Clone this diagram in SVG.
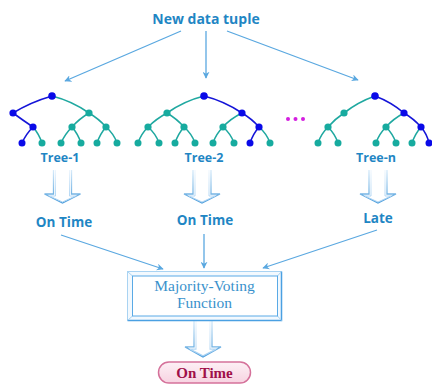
<svg xmlns="http://www.w3.org/2000/svg" xmlns:xlink="http://www.w3.org/1999/xlink" width="432" height="384" viewBox="0 0 432 384">
<style>
.lbl{font-family:"Open Sans","Liberation Sans",sans-serif;font-weight:bold;fill:#1f86c4;text-anchor:middle}
.conn{stroke:#5aa8e0;stroke-width:1.3;fill:none}
.eb{stroke:#1515d8;stroke-width:1.6;fill:none}
.et{stroke:#1fa8a0;stroke-width:1.6;fill:none}
.nb{fill:#0a0ae8}
.nt{fill:#17ab9f}
.ho{fill:#fff;stroke:url(#hg);stroke-width:1.3}
.hi{fill:none;stroke:url(#hg2);stroke-width:1}
.vt{font-family:"Liberation Serif",serif;font-size:15.5px;fill:#3a92cc;text-anchor:middle}
</style>
<defs>
<marker id="ah" viewBox="0 0 10 10" refX="9" refY="5" markerWidth="7" markerHeight="7" markerUnits="userSpaceOnUse" orient="auto">
<path d="M0 0 L10 5 L0 10 L3 5 Z" fill="#5aa8e0"/>
</marker>
<linearGradient id="hg" x1="0" y1="0" x2="0" y2="1">
<stop offset="0" stop-color="#d8ebfa"/>
<stop offset="1" stop-color="#4f9fdc"/>
</linearGradient>
<linearGradient id="hg2" x1="0" y1="0" x2="0" y2="1">
<stop offset="0" stop-color="#eef6fd"/>
<stop offset="1" stop-color="#a6d0f2"/>
</linearGradient>
<linearGradient id="pg" x1="0" y1="0" x2="0" y2="1">
<stop offset="0" stop-color="#fdf0f5"/>
<stop offset="1" stop-color="#f7d3e1"/>
</linearGradient>
<path id="ha" d="M-9 0 V24 H-18 L0 33 L18 24 H9 V0"/>
<path id="hb" d="M-7 0 V26 H-13 L0 32 L13 26 H7 V0"/>
</defs>

<g id="title"><text class="lbl" x="206" y="24" font-size="14">New data tuple</text></g>

<g id="connectors">
<line class="conn" x1="181" y1="31" x2="65" y2="81" marker-end="url(#ah)"/>
<line class="conn" x1="206" y1="31" x2="206" y2="78" marker-end="url(#ah)"/>
<line class="conn" x1="227" y1="31" x2="358" y2="80" marker-end="url(#ah)"/>
<line class="conn" x1="61" y1="235" x2="163" y2="269" marker-end="url(#ah)"/>
<line class="conn" x1="204" y1="234" x2="204" y2="268" marker-end="url(#ah)"/>
<line class="conn" x1="377" y1="230" x2="263" y2="268" marker-end="url(#ah)"/>
</g>

<g id="tree1">
<path class="eb" d="M52 96 Q31 102 13 113 M13 113 Q24 121 33 127 M33 127 Q26 134 22 143"/>
<path class="et" d="M52 96 Q72 101 89 113 M33 127 Q39 134 42 143 M89 113 Q79 119 72 127 M89 113 Q99 119 106 127 M72 127 Q65 134 61 143 M72 127 Q78 134 81 143 M106 127 Q100 134 97 143 M106 127 Q114 134 117 143"/>
<circle class="nb" cx="52" cy="96" r="3.8"/>
<circle class="nb" cx="13" cy="113" r="3.6"/>
<circle class="nt" cx="89" cy="113" r="3.6"/>
<circle class="nb" cx="33" cy="127" r="3.6"/>
<circle class="nt" cx="72" cy="127" r="3.6"/>
<circle class="nt" cx="106" cy="127" r="3.6"/>
<circle class="nb" cx="22" cy="143" r="3.5"/>
<circle class="nt" cx="42" cy="143" r="3.5"/>
<circle class="nt" cx="61" cy="143" r="3.5"/>
<circle class="nt" cx="81" cy="143" r="3.5"/>
<circle class="nt" cx="97" cy="143" r="3.5"/>
<circle class="nt" cx="117" cy="143" r="3.5"/>
<text class="lbl" x="60" y="162" font-size="12.5">Tree-1</text>
</g>

<g id="tree2">
<path class="eb" d="M204 96 Q224 101 242 113 M242 113 Q252 119 259 127 M259 127 Q253 134 250 143"/>
<path class="et" d="M204 96 Q184 101 167 113 M167 113 Q156 119 148 127 M167 113 Q177 119 184 127 M148 127 Q141 134 138 143 M148 127 Q156 134 159 143 M184 127 Q178 134 175 143 M184 127 Q192 134 195 143 M242 113 Q230 119 223 127 M223 127 Q216 134 213 143 M223 127 Q231 134 234 143 M259 127 Q267 134 270 143"/>
<circle class="nb" cx="204" cy="96" r="3.8"/>
<circle class="nt" cx="167" cy="113" r="3.6"/>
<circle class="nb" cx="242" cy="113" r="3.6"/>
<circle class="nt" cx="148" cy="127" r="3.6"/>
<circle class="nt" cx="184" cy="127" r="3.6"/>
<circle class="nt" cx="223" cy="127" r="3.6"/>
<circle class="nb" cx="259" cy="127" r="3.6"/>
<circle class="nt" cx="138" cy="143" r="3.5"/>
<circle class="nt" cx="159" cy="143" r="3.5"/>
<circle class="nt" cx="175" cy="143" r="3.5"/>
<circle class="nt" cx="195" cy="143" r="3.5"/>
<circle class="nt" cx="213" cy="143" r="3.5"/>
<circle class="nt" cx="234" cy="143" r="3.5"/>
<circle class="nb" cx="250" cy="143" r="3.5"/>
<circle class="nt" cx="270" cy="143" r="3.5"/>
<text class="lbl" x="204" y="162" font-size="12.5">Tree-2</text>
</g>

<g id="dots">
<circle cx="288" cy="119" r="2" fill="#d41ee0"/>
<circle cx="295.5" cy="119" r="2" fill="#d41ee0"/>
<circle cx="303" cy="119" r="2" fill="#d41ee0"/>
</g>

<g id="treen">
<path class="eb" d="M375 96 Q391 102 404 113 M404 113 Q414 119 421 127 M421 127 Q427 134 429 143"/>
<path class="et" d="M375 96 Q358 102 344 113 M344 113 Q335 119 328 127 M328 127 Q321 134 318 143 M328 127 Q335 134 338 143 M404 113 Q393 119 386 127 M386 127 Q379 134 376 143 M386 127 Q393 134 396 143 M421 127 Q415 134 412 143"/>
<circle class="nb" cx="375" cy="96" r="3.8"/>
<circle class="nt" cx="344" cy="113" r="3.6"/>
<circle class="nb" cx="404" cy="113" r="3.6"/>
<circle class="nt" cx="328" cy="127" r="3.6"/>
<circle class="nt" cx="386" cy="127" r="3.6"/>
<circle class="nb" cx="421" cy="127" r="3.6"/>
<circle class="nt" cx="318" cy="143" r="3.5"/>
<circle class="nt" cx="338" cy="143" r="3.5"/>
<circle class="nt" cx="376" cy="143" r="3.5"/>
<circle class="nt" cx="396" cy="143" r="3.5"/>
<circle class="nt" cx="412" cy="143" r="3.5"/>
<circle class="nb" cx="429" cy="143" r="3.5"/>
<text class="lbl" x="376" y="162" font-size="12.5">Tree-n</text>
</g>

<g id="harrows">
<g transform="translate(62.5,170)"><use href="#ha" class="ho"/><use href="#hb" class="hi"/></g>
<g transform="translate(202,170)"><use href="#ha" class="ho"/><use href="#hb" class="hi"/></g>
<g transform="translate(378,170)"><use href="#ha" class="ho"/><use href="#hb" class="hi"/></g>
<g transform="translate(203,320) scale(1,1.12)"><use href="#ha" class="ho"/><use href="#hb" class="hi"/></g>
</g>

<g id="out1"><text class="lbl" x="64" y="227" font-size="13.5">On Time</text></g>
<g id="out2"><text class="lbl" x="205" y="225" font-size="13.5">On Time</text></g>
<g id="outn"><text class="lbl" x="378" y="223" font-size="13.5">Late</text></g>

<g id="vote">
<rect x="127.5" y="271.5" width="154" height="49" fill="#f3f9fe" stroke="#a9d3f2" stroke-width="1"/>
<path d="M281.5 271.5 V320.5 H127.5" fill="none" stroke="#4aa0e2" stroke-width="1.5"/>
<path d="M127.5 271.5 L132.5 276 M281.5 271.5 L277.5 276 M127.5 320.5 L132.5 316 M281.5 320.5 L277.5 316" stroke="#a9d3f2" stroke-width="1"/>
<rect x="132.5" y="276" width="145" height="40" fill="#fff" stroke="#5aaae6" stroke-width="1"/>
<text class="vt" x="204.5" y="291">Majority-Voting</text>
<text class="vt" x="204.5" y="308">Function</text>
</g>

<g id="final">
<rect x="158.5" y="362" width="92" height="21" rx="10.5" fill="url(#pg)" stroke="#d5719a" stroke-width="1.5"/>
<text x="204.5" y="377.5" font-family="'Liberation Serif',serif" font-size="15" font-weight="bold" fill="#a01049" text-anchor="middle">On Time</text>
</g>
</svg>
